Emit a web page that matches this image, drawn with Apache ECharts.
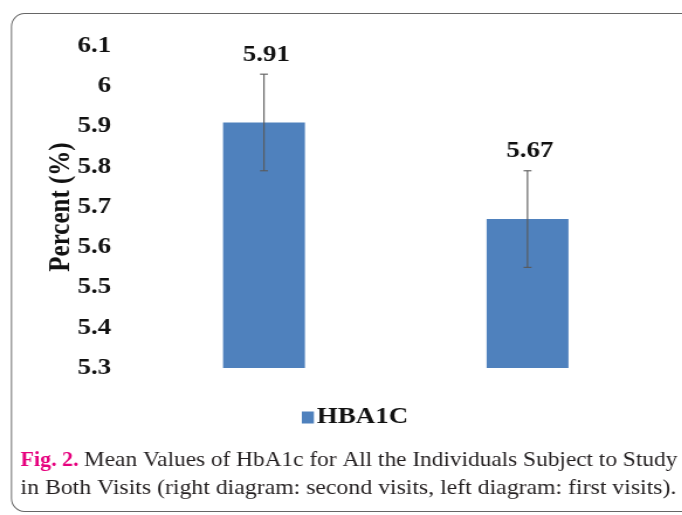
<!DOCTYPE html>
<html><head><meta charset="utf-8">
<script src="https://cdn.jsdelivr.net/npm/echarts@6/dist/echarts.min.js"></script>
<style>html,body{margin:0;padding:0;background:#fff;overflow:hidden}
#c{width:583px;height:515px;transform:scaleX(1.17);transform-origin:0 0}</style>
</head><body><div id="c"></div>
<script>
const categories = ['First visit', 'Second visit'];
const means = [5.91, 5.67];
const errors = [0.12, 0.12];
const yTicks = [5.3, 5.4, 5.5, 5.6, 5.7, 5.8, 5.9, 6.0, 6.1];
const seriesName = 'HBA1C';
const captionLabel = 'Fig. 2.';
const captionLine1 = 'Mean Values of HbA1c for All the Individuals Subject to Study';
const captionLine2 = 'in Both Visits (right diagram: second visits, left diagram: first visits).';

const S = 1.17; // horizontal stretch of the chart picture
const serif = '"Liberation Serif", "Times New Roman", serif';
const chart = echarts.init(document.getElementById('c'));
chart.setOption({
  animation: false,
  grid: { left: 113, right: 19.5, top: 46, bottom: 147 },
  legend: {
    data: [seriesName], left: 253, top: 401, icon: 'rect', itemWidth: 10.3, itemHeight: 12,
    textStyle: { fontFamily: serif, fontWeight: 'bold', fontSize: 23, color: '#111', padding: [0, 0, 0, -2.5] }
  },
  xAxis: { type: 'category', data: categories, axisLine: { show: false }, axisTick: { show: false }, axisLabel: { show: false } },
  yAxis: {
    type: 'value', min: yTicks[0], max: yTicks[yTicks.length - 1], interval: 0.1,
    name: 'Percent (%)', nameLocation: 'middle', nameGap: 47.5, nameMoveOverlap: false,
    nameTextStyle: { fontFamily: serif, fontWeight: 'bold', fontSize: 25, color: '#111' },
    axisLine: { show: false }, axisTick: { show: false }, splitLine: { show: false },
    axisLabel: { fontFamily: serif, fontWeight: 'bold', fontSize: 23, color: '#111', margin: 18 }
  },
  series: [
    { name: seriesName, type: 'bar', data: means, barWidth: 70, itemStyle: { color: '#4f81bd' } },
    {
      type: 'custom', name: 'err', data: means.map((m, i) => [i, m - errors[i], m + errors[i], m]),
      z: 10,
      renderItem: function (params, api) {
        const lo = api.coord([api.value(0), api.value(1)]);
        const hi = api.coord([api.value(0), api.value(2)]);
        const c = 3.4;
        const st = { stroke: '#5a5a5a', lineWidth: 1.1 };
        return {
          type: 'group', children: [
            { type: 'line', shape: { x1: hi[0], y1: hi[1], x2: lo[0], y2: lo[1] }, style: st },
            { type: 'line', shape: { x1: hi[0] - c, y1: hi[1], x2: hi[0] + c, y2: hi[1] }, style: st },
            { type: 'line', shape: { x1: lo[0] - c, y1: lo[1], x2: lo[0] + c, y2: lo[1] }, style: st },
            { type: 'text', style: { text: api.value(3).toFixed(2), x: hi[0] + 2, y: hi[1] - 19.5, align: 'center', verticalAlign: 'middle',
              font: 'bold 23px ' + serif, fill: '#111' } }
          ]
        };
      }
    }
  ],
  graphic: [
    { type: 'group', x: 0, y: 0, scaleX: 1 / S, silent: true, children: [
      { type: 'rect', shape: { x: 11.5, y: 13.5, width: 720, height: 498, r: 13 }, style: { fill: 'none', stroke: '#666', lineWidth: 1.1 } },
      { type: 'text', style: { x: 20.5, y: 460, verticalAlign: 'middle', text: captionLabel,
        font: 'bold 22px ' + serif, fill: '#e6007e' } },
      { type: 'group', x: 84, y: 0, scaleX: 1.06, children: [
        { type: 'text', style: { x: 0, y: 460, verticalAlign: 'middle', text: captionLine1, font: '22px ' + serif, fill: '#231f20' } }
      ] },
      { type: 'group', x: 20.5, y: 0, scaleX: 1.08, children: [
        { type: 'text', style: { x: 0, y: 488.5, verticalAlign: 'middle', text: captionLine2, font: '22px ' + serif, fill: '#231f20' } }
      ] }
    ] }
  ]
});
</script></body></html>
